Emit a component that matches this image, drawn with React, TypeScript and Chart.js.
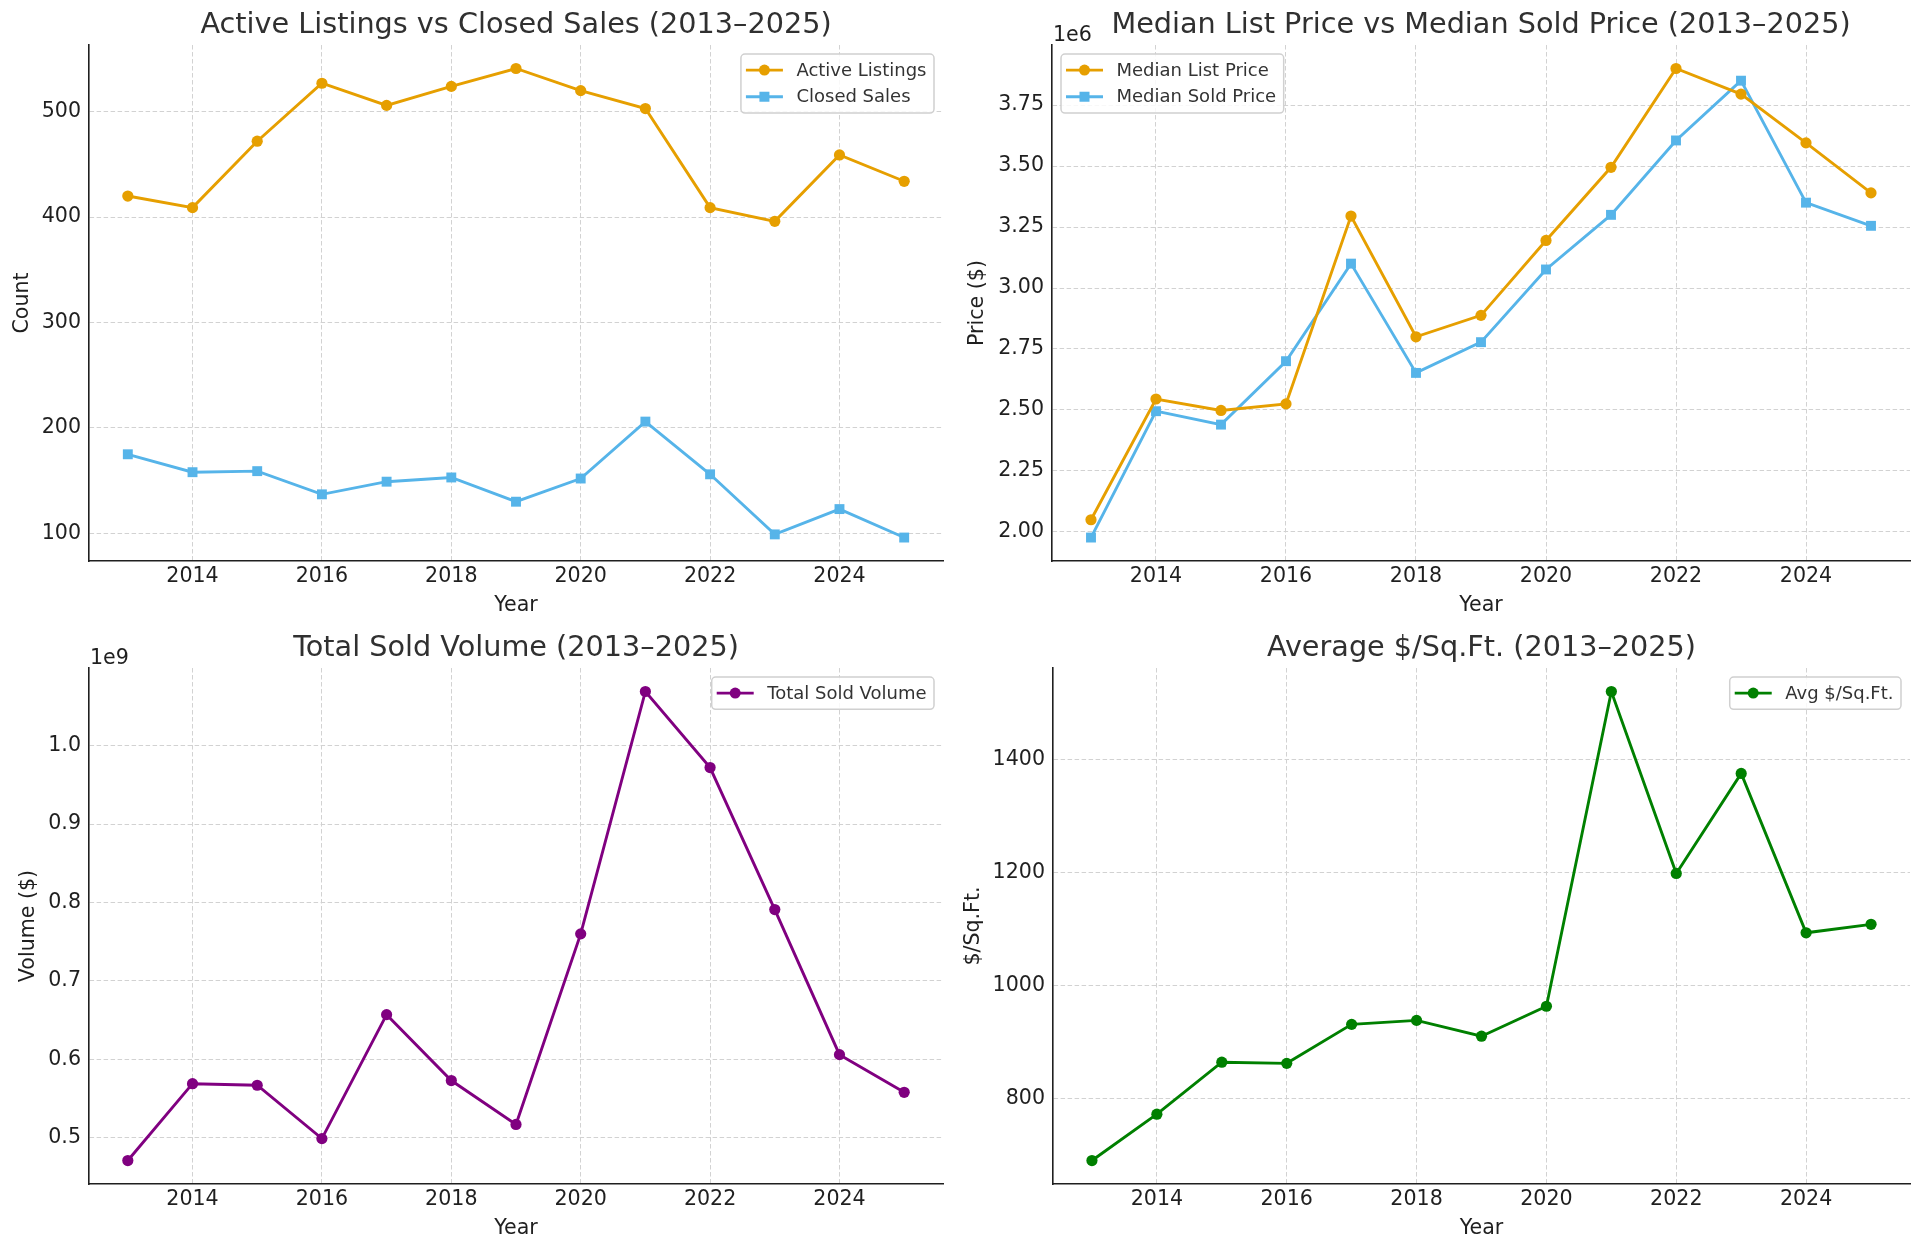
import React, { useEffect, useRef } from 'react';
import { Chart, registerables } from 'chart.js';

Chart.register(...registerables);

// ---------------- Data ----------------
const years = [2013, 2014, 2015, 2016, 2017, 2018, 2019, 2020, 2021, 2022, 2023, 2024, 2025];
const xTickValues = [2014, 2016, 2018, 2020, 2022, 2024];

const activeListings = [420, 409, 472, 527, 506, 524, 541, 520, 503, 409, 396, 459, 434];
const closedSales = [175, 158, 159, 137, 149, 153, 130, 152, 206, 156, 99, 123, 96];

const medianListPrice = [2050000, 2545000, 2498000, 2525000, 3295000, 2800000, 2888000, 3195000, 3495000, 3900000, 3795000, 3595000, 3390000];
const medianSoldPrice = [1977000, 2495000, 2440000, 2700000, 3100000, 2652000, 2778000, 3076000, 3300000, 3605000, 3850000, 3350000, 3255000];

const totalSoldVolume = [471e6, 569e6, 567e6, 499e6, 657e6, 573e6, 517e6, 760e6, 1069e6, 972e6, 791e6, 606e6, 558e6];

const avgPricePerSqFt = [690, 772, 864, 862, 931, 938, 910, 963, 1520, 1198, 1375, 1093, 1108];

const countTicks = [100, 200, 300, 400, 500];
const priceTicks = [2.0e6, 2.25e6, 2.5e6, 2.75e6, 3.0e6, 3.25e6, 3.5e6, 3.75e6];
const volumeTicks = [0.5e9, 0.6e9, 0.7e9, 0.8e9, 0.9e9, 1.0e9];
const sqftTicks = [800, 1000, 1200, 1400];

// ---------------- Styling ----------------
const FONT = '"DejaVu Sans", "Liberation Sans", sans-serif';
const TEXT = '#1f1f1f';
const TITLE = '#303030';
const GRID = '#d2d2d2';
const ORANGE = '#E69F00';
const BLUE = '#56B4E9';
const PURPLE = '#800080';
const GREEN = '#008000';
const TICK_SIZE = 20.6;
const TITLE_SIZE = 28.7;

type Series = { label: string; data: number[]; color: string; marker: 'circle' | 'rect' };

type Panel = {
  title: string;
  yLabel: string;
  series: Series[];
  yTicks: number[];
  yFormat: (v: number) => string;
  offsetText?: string;
  legendSide: 'left' | 'right';
  left: number;
  top: number;
  width: number;
  height: number;
  yAxisWidth: number;
  xAxisHeight: number;
  padRight: number;
  yTitlePad: number;
  xTitlePadBottom: number;
};

const insideLegend = {
  id: 'insideLegend',
  afterDraw(chart: any, _args: any, opts: any) {
    const { ctx, chartArea } = chart;
    const items = chart.data.datasets;
    ctx.save();
    ctx.font = `18px ${FONT}`;
    const textW = Math.max(...items.map((d: any) => ctx.measureText(d.label).width));
    const w = 55.5 + textW + 7.5;
    const h = 32.3 + (items.length - 1) * 26.7;
    const x = opts.side === 'left' ? chartArea.left + 9 : chartArea.right - 9 - w;
    const y = chartArea.top + 9;
    ctx.beginPath();
    if ((ctx as any).roundRect) (ctx as any).roundRect(x, y, w, h, 4);
    else ctx.rect(x, y, w, h);
    ctx.fillStyle = 'rgba(255,255,255,0.85)';
    ctx.fill();
    ctx.strokeStyle = '#d0d0d0';
    ctx.lineWidth = 1.5;
    ctx.stroke();
    items.forEach((d: any, i: number) => {
      const cy = y + 16 + i * 26.7;
      ctx.strokeStyle = d.borderColor;
      ctx.lineWidth = 2.8;
      ctx.beginPath();
      ctx.moveTo(x + 5, cy);
      ctx.lineTo(x + 42, cy);
      ctx.stroke();
      ctx.fillStyle = d.borderColor;
      if (d.pointStyle === 'rect') {
        ctx.fillRect(x + 23.5 - 5, cy - 5, 10, 10);
      } else {
        ctx.beginPath();
        ctx.arc(x + 23.5, cy, 5.5, 0, Math.PI * 2);
        ctx.fill();
      }
      ctx.fillStyle = '#333333';
      ctx.textAlign = 'left';
      ctx.textBaseline = 'middle';
      ctx.fillText(d.label, x + 55.5, cy + 1);
    });
    ctx.restore();
  },
};

const offsetTextPlugin = {
  id: 'offsetText',
  afterDraw(chart: any, _args: any, opts: any) {
    if (!opts || !opts.text) return;
    const { ctx, chartArea } = chart;
    ctx.save();
    ctx.font = `${TICK_SIZE}px ${FONT}`;
    ctx.fillStyle = TEXT;
    ctx.textAlign = 'left';
    ctx.textBaseline = 'alphabetic';
    ctx.fillText(opts.text, chartArea.left + 1, chartArea.top - 4);
    ctx.restore();
  },
};

const panels: Panel[] = [
  {
    title: 'Active Listings vs Closed Sales (2013–2025)',
    yLabel: 'Count',
    series: [
      { label: 'Active Listings', data: activeListings, color: ORANGE, marker: 'circle' },
      { label: 'Closed Sales', data: closedSales, color: BLUE, marker: 'rect' },
    ],
    yTicks: countTicks,
    yFormat: (v) => String(v),
    legendSide: 'right',
    left: 0, top: 0, width: 960, height: 623,
    yAxisWidth: 89, xAxisHeight: 62, padRight: 17, yTitlePad: 10, xTitlePadBottom: 5,
  },
  {
    title: 'Median List Price vs Median Sold Price (2013–2025)',
    yLabel: 'Price ($)',
    series: [
      { label: 'Median List Price', data: medianListPrice, color: ORANGE, marker: 'circle' },
      { label: 'Median Sold Price', data: medianSoldPrice, color: BLUE, marker: 'rect' },
    ],
    yTicks: priceTicks,
    yFormat: (v) => (v / 1e6).toFixed(2),
    offsetText: '1e6',
    legendSide: 'left',
    left: 960, top: 0, width: 960, height: 623,
    yAxisWidth: 92, xAxisHeight: 62, padRight: 10, yTitlePad: 5, xTitlePadBottom: 5,
  },
  {
    title: 'Total Sold Volume (2013–2025)',
    yLabel: 'Volume ($)',
    series: [{ label: 'Total Sold Volume', data: totalSoldVolume, color: PURPLE, marker: 'circle' }],
    yTicks: volumeTicks,
    yFormat: (v) => (v / 1e9).toFixed(1),
    offsetText: '1e9',
    legendSide: 'right',
    left: 0, top: 623, width: 960, height: 630,
    yAxisWidth: 89, xAxisHeight: 69, padRight: 17, yTitlePad: 16, xTitlePadBottom: 12,
  },
  {
    title: 'Average $/Sq.Ft. (2013–2025)',
    yLabel: '$/Sq.Ft.',
    series: [{ label: 'Avg $/Sq.Ft.', data: avgPricePerSqFt, color: GREEN, marker: 'circle' }],
    yTicks: sqftTicks,
    yFormat: (v) => String(v),
    legendSide: 'right',
    left: 960, top: 623, width: 960, height: 630,
    yAxisWidth: 93, xAxisHeight: 69, padRight: 10, yTitlePad: 1, xTitlePadBottom: 12,
  },
];

function buildConfig(p: Panel): any {
  const all = p.series.flatMap((s) => s.data);
  const lo = Math.min(...all);
  const hi = Math.max(...all);
  const m = (hi - lo) * 0.05;
  const xLo = Math.min(...years);
  const xHi = Math.max(...years);
  const xm = (xHi - xLo) * 0.05;

  const font = { family: FONT, size: TICK_SIZE };
  const grid = { color: GRID, lineWidth: 1, drawTicks: false };
  const border = { display: true, color: TEXT, width: 1.6, dash: [4.5, 2.5] };

  return {
    type: 'line',
    data: {
      datasets: p.series.map((s) => ({
        label: s.label,
        data: years.map((yr, i) => ({ x: yr, y: s.data[i] })),
        borderColor: s.color,
        backgroundColor: s.color,
        pointBackgroundColor: s.color,
        pointBorderColor: s.color,
        pointBorderWidth: 0,
        pointStyle: s.marker,
        pointRadius: s.marker === 'rect' ? 7 : 5.6,
        borderWidth: 2.9,
        tension: 0,
        fill: false,
      })),
    },
    options: {
      responsive: false,
      maintainAspectRatio: false,
      devicePixelRatio: 1,
      animation: false,
      events: [],
      layout: { padding: { left: 0, top: 0, right: p.padRight, bottom: 0 } },
      plugins: {
        legend: { display: false },
        tooltip: { enabled: false },
        title: {
          display: true,
          text: p.title,
          fullSize: false,
          color: TITLE,
          font: { family: FONT, size: TITLE_SIZE, weight: 'normal' },
          padding: { top: 8, bottom: 2.6 },
        },
        insideLegend: { side: p.legendSide },
        offsetText: { text: p.offsetText || '' },
      },
      scales: {
        x: {
          type: 'linear',
          min: xLo - xm,
          max: xHi + xm,
          afterBuildTicks: (s: any) => {
            s.ticks = xTickValues.map((v) => ({ value: v }));
          },
          afterFit: (s: any) => {
            s.height = p.xAxisHeight;
          },
          ticks: {
            font,
            color: TEXT,
            padding: 3,
            maxRotation: 0,
            autoSkip: false,
            callback: (v: any) => String(v),
          },
          grid,
          border,
          title: {
            display: true,
            text: 'Year',
            color: TEXT,
            font,
            padding: { top: 0, bottom: p.xTitlePadBottom },
          },
        },
        y: {
          type: 'linear',
          min: lo - m,
          max: hi + m,
          afterBuildTicks: (s: any) => {
            s.ticks = p.yTicks.map((v) => ({ value: v }));
          },
          afterFit: (s: any) => {
            s.width = p.yAxisWidth;
          },
          ticks: {
            font,
            color: TEXT,
            padding: 8,
            autoSkip: false,
            callback: (v: any) => p.yFormat(Number(v)),
          },
          grid,
          border,
          title: {
            display: true,
            text: p.yLabel,
            color: TEXT,
            font,
            padding: { top: p.yTitlePad, bottom: 0 },
          },
        },
      },
    },
    plugins: [insideLegend, offsetTextPlugin],
  };
}

function PanelChart({ panel }: { panel: Panel }) {
  const ref = useRef<HTMLCanvasElement | null>(null);
  useEffect(() => {
    if (!ref.current) return;
    const chart = new Chart(ref.current, buildConfig(panel));
    return () => chart.destroy();
  }, [panel]);
  return (
    <canvas
      ref={ref}
      width={panel.width}
      height={panel.height}
      style={{
        position: 'absolute',
        left: panel.left,
        top: panel.top,
        width: panel.width,
        height: panel.height,
      }}
    />
  );
}

export default function App() {
  return (
    <div
      style={{
        position: 'fixed',
        left: 0,
        top: 0,
        width: 1920,
        height: 1253,
        background: '#ffffff',
        overflow: 'hidden',
      }}
    >
      {panels.map((p, i) => (
        <PanelChart key={i} panel={p} />
      ))}
    </div>
  );
}
